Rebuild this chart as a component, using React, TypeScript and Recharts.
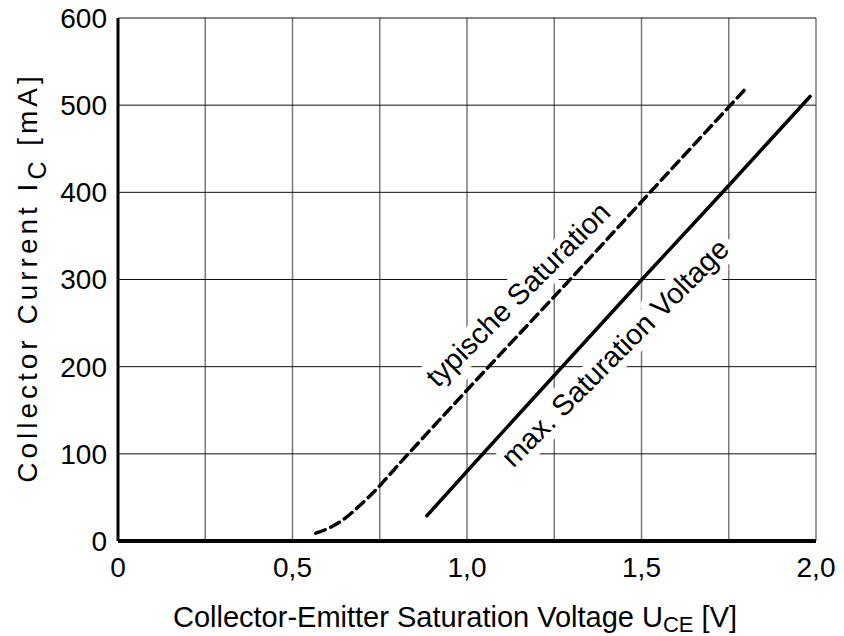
import React from 'react';
import { LineChart, Line, XAxis, YAxis, CartesianGrid, ReferenceDot, Label } from 'recharts';

// typical saturation curve (dashed)
const typVoltage = [0.567, 0.6, 0.64, 0.68, 0.72, 0.825, 1.06, 1.3, 1.52, 1.794];
const typCurrent = [9, 14, 23, 36, 51, 97, 199, 302, 398, 517];

// max saturation voltage curve (solid)
const maxVoltage = [0.885, 1.043, 1.501, 1.739, 1.983];
const maxCurrent = [29, 99, 300, 403, 510];

const xTicks = [0, 0.25, 0.5, 0.75, 1, 1.25, 1.5, 1.75, 2];
const yTicks = [0, 100, 200, 300, 400, 500, 600];

const typData = typVoltage.map((v, i) => ({ v, i: typCurrent[i] }));
const maxData = maxVoltage.map((v, i) => ({ v, i: maxCurrent[i] }));

const FONT = '"Liberation Sans", Arial, sans-serif';

const fmtX = (v: number) => {
  if (v === 0) return '0';
  if (Math.round(v * 100) % 50 !== 0) return '';
  return v.toFixed(1).replace('.', ',');
};

// rotated curve caption with a white box behind it (cuts the grid)
const curveLabel = (text: string) => (props: any) => {
  const cx = props.cx;
  const cy = props.cy;
  return (
    <text
      x={cx}
      y={cy}
      textAnchor="middle"
      dominantBaseline="central"
      transform={`rotate(-45, ${cx}, ${cy})`}
      fontFamily={FONT}
      fontSize={29}
      fill="#000"
      stroke="#fff"
      strokeWidth={16}
      strokeLinejoin="round"
      paintOrder="stroke"
    >
      {text}
    </text>
  );
};

const XTitle = (props: any) => {
  const vb = props.viewBox;
  const cx = vb.x + vb.width / 2 - 12;
  return (
    <text x={cx} y={vb.y + 86} textAnchor="middle" fontFamily={FONT} fontSize={29} fill="#000">
      Collector-Emitter Saturation Voltage U
      <tspan fontSize={22} dy={5}>CE</tspan>
      <tspan dy={-5}> [V]</tspan>
    </text>
  );
};

const YTitle = (props: any) => {
  const vb = props.viewBox;
  const x = vb.x - 21;
  const y = vb.y + vb.height / 2 - 2;
  return (
    <text
      x={x}
      y={y}
      textAnchor="middle"
      transform={`rotate(-90, ${x}, ${y})`}
      fontFamily={FONT}
      fontSize={28}
      letterSpacing={4}
      fill="#000"
    >
      Collector Current I
      <tspan fontSize={25} dy={9}>C</tspan>
      <tspan dy={-9}> [mA]</tspan>
    </text>
  );
};

export default function App() {
  return (
    <div style={{ position: 'absolute', left: 0, top: 0, background: '#fff' }}>
      <LineChart width={844} height={636} margin={{ top: 18, right: 28, bottom: 55, left: 58 }}>
        <CartesianGrid horizontal={false} stroke="#7a7a7a" strokeWidth={1.5} />
        <CartesianGrid vertical={false} stroke="#111" strokeWidth={1} />
        <XAxis
          type="number"
          dataKey="v"
          domain={[0, 2]}
          ticks={xTicks}
          tickFormatter={fmtX}
          interval={0}
          height={40}
          tickSize={0}
          tickMargin={16}
          tick={{ fontSize: 28, fill: '#000', fontFamily: FONT }}
          axisLine={{ stroke: '#000', strokeWidth: 4 }}
          tickLine={false}
          allowDataOverflow
        >
          <Label content={XTitle} />
        </XAxis>
        <YAxis
          type="number"
          dataKey="i"
          domain={[0, 600]}
          ticks={yTicks}
          interval={0}
          width={60}
          tickSize={0}
          tickMargin={11}
          tick={{ fontSize: 28, fill: '#000', fontFamily: FONT }}
          axisLine={{ stroke: '#000', strokeWidth: 3 }}
          tickLine={false}
          allowDataOverflow
        >
          <Label content={YTitle} />
        </YAxis>
        <ReferenceDot x={1.146} y={283} r={1} zIndex={50} shape={curveLabel('typische Saturation')} />
        <ReferenceDot x={1.424} y={216} r={1} zIndex={50} shape={curveLabel('max. Saturation Voltage')} />
        <Line
          data={typData}
          dataKey="i"
          type="monotoneX"
          stroke="#000"
          strokeWidth={3.5}
          strokeDasharray="10 6"
          strokeLinecap="round"
          dot={false}
          isAnimationActive={false}
        />
        <Line
          data={maxData}
          dataKey="i"
          type="linear"
          stroke="#000"
          strokeWidth={3.5}
          strokeLinecap="round"
          dot={false}
          isAnimationActive={false}
        />
      </LineChart>
    </div>
  );
}
